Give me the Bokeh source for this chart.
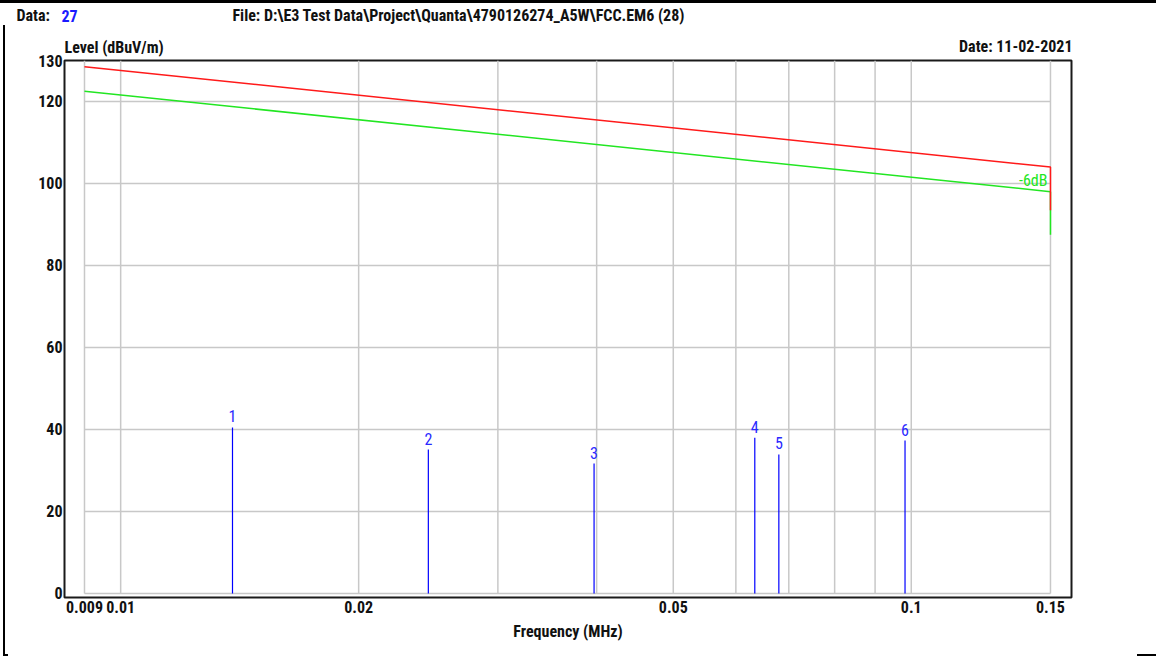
import math
from bokeh.plotting import figure
from bokeh.models import Range1d, FixedTicker, Label
from bokeh.embed import file_html
from bokeh.resources import INLINE
from bokeh.core.properties import value

# ---- data ----
limit_freq = [0.009, 0.15, 0.15]          # MHz
limit_level = [128.5, 104.0, 93.5]        # dBuV/m (red limit)
margin_level = [122.5, 98.0, 87.5]        # dBuV/m (green, -6 dB)
marker_no = ["1", "2", "3", "4", "5", "6"]
marker_freq = [0.01385, 0.0245, 0.0397, 0.0634, 0.0680, 0.0982]
marker_level = [40.5, 35.1, 31.7, 38.0, 33.9, 37.3]
x_ticks = [0.009, 0.01, 0.02, 0.05, 0.1, 0.15]
x_tick_labels = ["0.009", "0.01", "0.02", "0.05", "0.1", "0.15"]
x_grid = [0.009, 0.01, 0.02, 0.03, 0.04, 0.05, 0.06, 0.07, 0.08, 0.09, 0.1, 0.15]
y_ticks = [0, 20, 40, 60, 80, 100, 120, 130]
y_grid = [0, 20, 40, 60, 80, 100, 120]

FONT = "'Roboto Condensed', 'DejaVu Sans Condensed', sans-serif"
TICK_SIZE = "16px"

W, H = 1156, 656
FL, FT, FR, FB = 64, 60, 1071, 597   # frame edges in canvas pixels
X0, X1 = 0.008491, 0.15947
Y0, Y1 = -0.98, 130

p = figure(width=W, height=H, x_axis_type="log",
           x_range=Range1d(X0, X1), y_range=Range1d(Y0, Y1),
           output_backend="svg", toolbar_location=None,
           min_border_left=FL, min_border_right=W - FR, min_border_top=FT, min_border_bottom=H - FB)
p.background_fill_color = "white"
p.border_fill_color = None
p.styles = {"background": (
    "linear-gradient(#000,#000) 0px 0px / 1156px 3px no-repeat, "
    "linear-gradient(#000,#000) 3px 25px / 2px 631px no-repeat, "
    "linear-gradient(#000,#000) 3px 654px / 5px 2px no-repeat, "
    "linear-gradient(#000,#000) 1137px 654px / 19px 2px no-repeat, #ffffff")}
p.outline_line_color = "#1a1a1a"
p.outline_line_width = 2
p.xgrid.visible = False
p.ygrid.visible = False

# axes
p.xaxis.ticker = FixedTicker(ticks=x_ticks)
p.xaxis.major_label_overrides = {t: l for t, l in zip(x_ticks, x_tick_labels)}
p.yaxis.ticker = FixedTicker(ticks=y_ticks)
for ax in (p.xaxis, p.yaxis):
    ax.axis_line_color = None
    ax.major_tick_line_color = None
    ax.minor_tick_line_color = None
    ax.major_tick_out = 0
    ax.major_tick_in = 0
    ax.major_label_text_font = FONT
    ax.major_label_text_font_style = "bold"
    ax.major_label_text_font_size = TICK_SIZE
    ax.major_label_text_color = "#111111"
p.xaxis.major_label_standoff = 3
p.yaxis.major_label_standoff = 2
p.xaxis.axis_label = "Frequency (MHz)"
p.xaxis.axis_label_text_font = FONT
p.xaxis.axis_label_text_font_style = "bold"
p.xaxis.axis_label_text_font_size = "16px"
p.xaxis.axis_label_text_color = "#111111"
p.xaxis.axis_label_standoff = 6

# grid drawn only over the data region
p.segment(x0=x_grid, y0=[y_ticks[0]] * len(x_grid), x1=x_grid, y1=[y_ticks[-1]] * len(x_grid),
          line_color="#c8c8c8", line_width=1.5)
p.segment(x0=[x_grid[0]] * len(y_grid), y0=y_grid, x1=[x_grid[-1]] * len(y_grid), y1=y_grid,
          line_color="#c8c8c8", line_width=1.5)

# limit lines
p.line(limit_freq, margin_level, line_color="#22e622", line_width=1.5)
p.line(limit_freq, limit_level, line_color="#ff1a1a", line_width=1.5)
p.text(x=[limit_freq[1]], y=[margin_level[1]], text=["-6dB"], text_align="right",
       text_baseline="bottom", x_offset=-3, y_offset=-2, text_font=value(FONT),
       text_font_size="16px", text_color="#22e622")

# markers
p.segment(x0=marker_freq, y0=[0] * len(marker_freq), x1=marker_freq, y1=marker_level,
          line_color="#0000ff", line_width=1.2)
p.text(x=marker_freq, y=marker_level, text=marker_no, text_align="center",
       text_baseline="bottom", y_offset=-5, text_font=value(FONT),
       text_font_size="16px", text_color="#2a2aff")

# header texts: placed by canvas pixel, converted through the plot's own scales,
# and hosted in side panels (side-panel annotations are not clipped to the frame)
def px_to_x(px):
    lo, hi = math.log10(X0), math.log10(X1)
    return 10 ** (lo + (px - FL) / (FR - FL) * (hi - lo))

def py_to_y(py):
    return Y0 + (FB - py) / (FB - FT) * (Y1 - Y0)

def head(text, px, py, side, align="left", color="#111111", size="16px"):
    p.add_layout(Label(x=px_to_x(px), y=py_to_y(py), text=text, text_align=align,
                       text_baseline="middle", text_font=FONT, text_font_style="bold",
                       text_font_size=size, text_color=color), side)

head("Data:", 16, 15, "right")
head("27", 61, 15, "right", color="#1a1aff")
head("File: D:\\E3 Test Data\\Project\\Quanta\\4790126274_A5W\\FCC.EM6  (28)", 232, 15, "above")
head("Level (dBuV/m)", 64, 47, "above")
head("Date: 11-02-2021", 1072, 46, "above", align="right")

open("out.html", "w").write(file_html(p, INLINE))
